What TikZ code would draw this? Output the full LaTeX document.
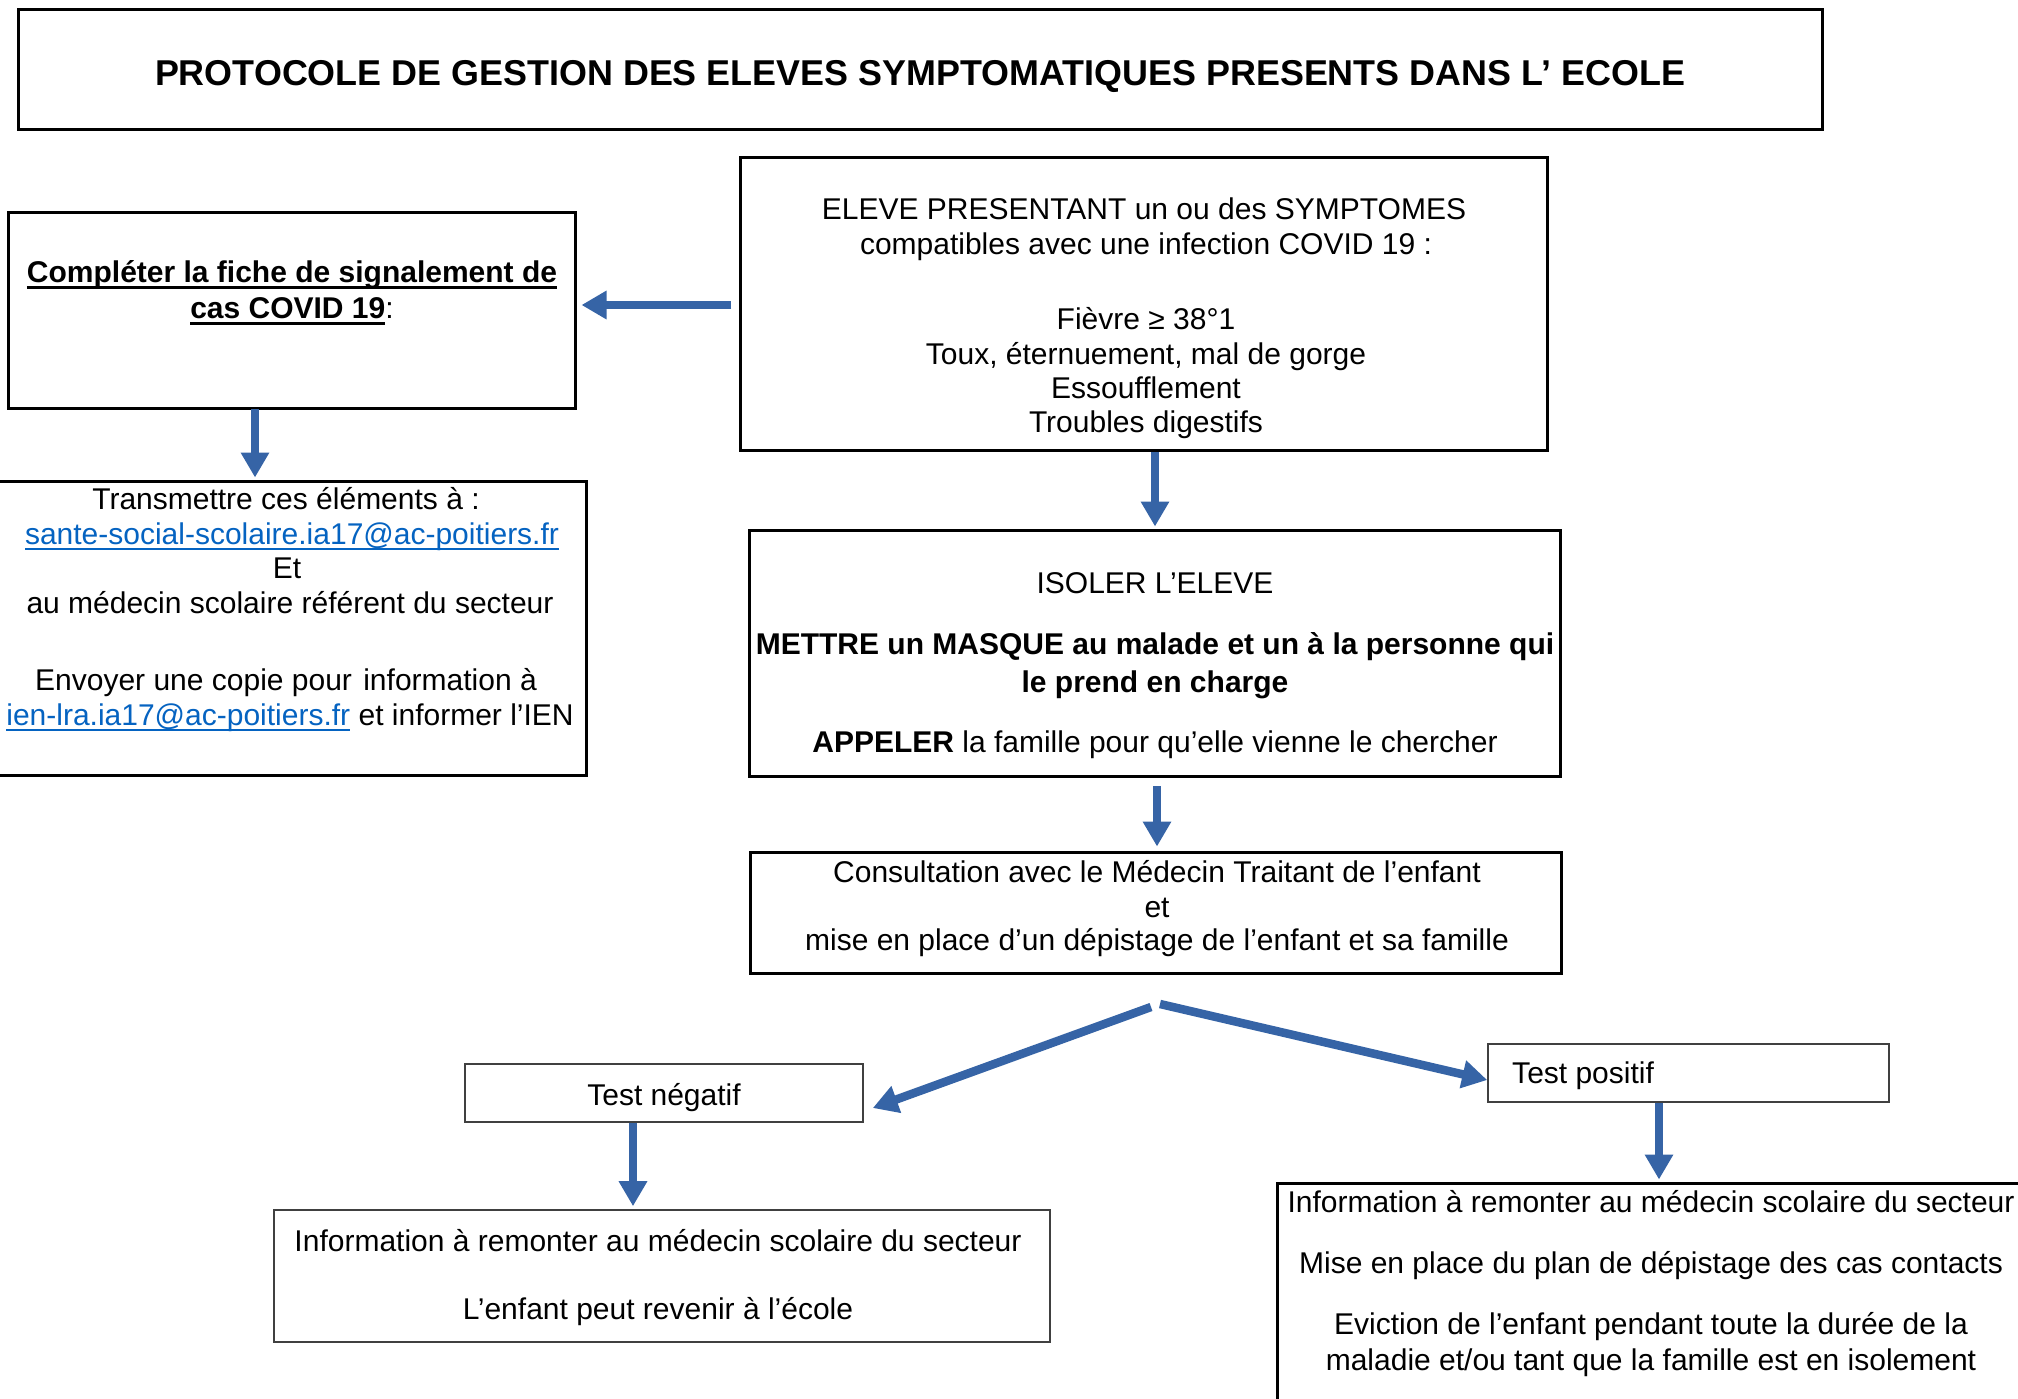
\documentclass[tikz,border=0pt]{standalone}
\usepackage{fontspec}
\setmainfont{Liberation Sans}
\usetikzlibrary{arrows.meta,calc}
\definecolor{arrowblue}{RGB}{54,100,166}
\definecolor{linkblue}{RGB}{5,99,193}
\newsavebox\myulbox
\newcommand{\myul}[4]{\sbox\myulbox{#4}\makebox[0pt][l]{\color{#1}\rule[#2]{\wd\myulbox}{#3}}\usebox\myulbox}
\newcommand{\boldul}[1]{\myul{black}{-6.5pt}{3pt}{\bfseries #1}}
\newcommand{\linkul}[1]{\myul{linkblue}{-5.5pt}{1.6pt}{\textcolor{linkblue}{#1}}}
\tikzset{
  box/.style={draw=black, line width=3pt, rectangle, inner sep=0pt},
  tbox/.style={draw=black!75, line width=1.6pt, rectangle, inner sep=0pt},
  txt/.style={inner sep=0pt, anchor=base, font=\fontsize{30}{34.5}\selectfont},
  arr/.style={draw=arrowblue, line width=8.5pt, -{Triangle[length=25pt,width=27pt]}},
}
\begin{document}
\begin{tikzpicture}[x=1pt,y=-1pt]
\useasboundingbox (0,0) rectangle (2018,1398);
\clip (0,0) rectangle (2018,1398);
\fill[white] (0,0) rectangle (2018,1398);

% boxes
\node[box, minimum width=1804pt, minimum height=120pt] (title) at (920,69) {};
\node[box, minimum width=567pt, minimum height=196pt] (compl) at (291.5,310) {};
\node[box, minimum width=591pt, minimum height=294pt] (trans) at (290.5,628) {};
\node[box, minimum width=807pt, minimum height=293pt] (eleve) at (1143.5,303.5) {};
\node[box, minimum width=811pt, minimum height=246pt] (isoler) at (1154.5,653) {};
\node[box, minimum width=811pt, minimum height=121pt] (consult) at (1155.5,912.5) {};
\node[tbox, minimum width=398pt, minimum height=58pt] (neg) at (664,1093) {};
\node[tbox, minimum width=401pt, minimum height=58pt] (pos) at (1688.5,1073) {};
\node[tbox, minimum width=776pt, minimum height=132pt] (infoneg) at (662,1276) {};
\node[box, minimum width=753pt, minimum height=237pt] (infopos) at (1653.5,1301.5) {};

% title
\node[txt, font=\fontsize{35.9}{40}\selectfont\bfseries] (tt) at (920,85) {PROTOCOLE DE GESTION DES ELEVES SYMPTOMATIQUES PRESENTS DANS L’ ECOLE};

% completer
\node[txt] (c1) at (292,282) {\boldul{Compléter la fiche de signalement de}};
\node[txt] (c2) at (292,318) {\boldul{cas COVID 19}:};

% transmettre
\node[txt] (tr1) at (286,509) {Transmettre ces éléments à :};
\node[txt] (tr2) at (292,544) {\linkul{sante-social-scolaire.ia17@ac-poitiers.fr}};
\node[txt] (tr3) at (287,578) {Et};
\node[txt] (tr4) at (290,613) {au médecin scolaire référent du secteur};
\node[txt] (tr5) at (286,690) {Envoyer une copie pour\hspace{3pt} information à};
\node[txt] (tr6) at (290,725) {\linkul{ien-lra.ia17@ac-poitiers.fr} et informer l’IEN};

% eleve
\node[txt] (e1) at (1144,219) {ELEVE PRESENTANT un ou des SYMPTOMES};
\node[txt] (e2) at (1146,254) {compatibles avec une infection COVID 19 :};
\node[txt] (e3) at (1146,329) {Fièvre ≥ 38°1};
\node[txt] (e4) at (1146,364) {Toux, éternuement, mal de gorge};
\node[txt] (e5) at (1146,398) {Essoufflement};
\node[txt] (e6) at (1146,432) {Troubles digestifs};

% isoler
\node[txt] (i1) at (1155,593) {ISOLER L’ELEVE};
\node[txt] (i2) at (1155,654) {\bfseries METTRE un MASQUE au malade et un à la personne qui};
\node[txt] (i3) at (1155,692) {\bfseries le prend en charge};
\node[txt] (i4) at (1155,752) {\textbf{APPELER} la famille pour qu’elle vienne le chercher};

% consultation
\node[txt] (k1) at (1157,882) {Consultation avec le Médecin Traitant de l’enfant};
\node[txt] (k2) at (1157,917) {et};
\node[txt] (k3) at (1157,950) {mise en place d’un dépistage de l’enfant et sa famille};

% tests
\node[txt] (n1) at (664,1105) {Test négatif};
\node[txt, anchor=base west] (p1) at (1512,1083) {Test positif};

% info neg
\node[txt] (in1) at (658,1251) {Information à remonter au médecin scolaire du secteur};
\node[txt] (in2) at (658,1319) {L’enfant peut revenir à l’école};

% info pos
\node[txt] (ip1) at (1651,1212) {Information à remonter au médecin scolaire du secteur};
\node[txt] (ip2) at (1651,1273) {Mise en place du plan de dépistage des cas contacts};
\node[txt] (ip3) at (1651,1334) {Eviction de l’enfant pendant toute la durée de la};
\node[txt] (ip4) at (1651,1370) {maladie et/ou tant que la famille est en isolement};

% arrows
\coordinate (a1s) at (731,305);
\draw[arr] (a1s) -- ($(a1s -| compl.east)+(5,0)$);
\coordinate (a2s) at (255,409);
\draw[arr] (a2s) -- ($(a2s |- trans.north)+(0,-2)$);
\coordinate (a3s) at (1155,452);
\draw[arr] (a3s) -- ($(a3s |- isoler.north)+(0,-2)$);
\coordinate (a4s) at (1157,786);
\draw[arr] (a4s) -- ($(a4s |- consult.north)+(0,-4)$);
\coordinate (sl) at (1151,1007);
\coordinate (sr) at (1160,1004);
\draw[arr] (sl) -- ($(neg.east)+(9,15)$);
\draw[arr] (sr) -- ($(pos.west)+(0,7)$);
\coordinate (a5s) at (633,1123);
\draw[arr] (a5s) -- ($(a5s |- infoneg.north)+(0,-3)$);
\coordinate (a6s) at (1659,1103);
\draw[arr] (a6s) -- ($(a6s |- infopos.north)+(0,-2)$);
\end{tikzpicture}
\end{document}
